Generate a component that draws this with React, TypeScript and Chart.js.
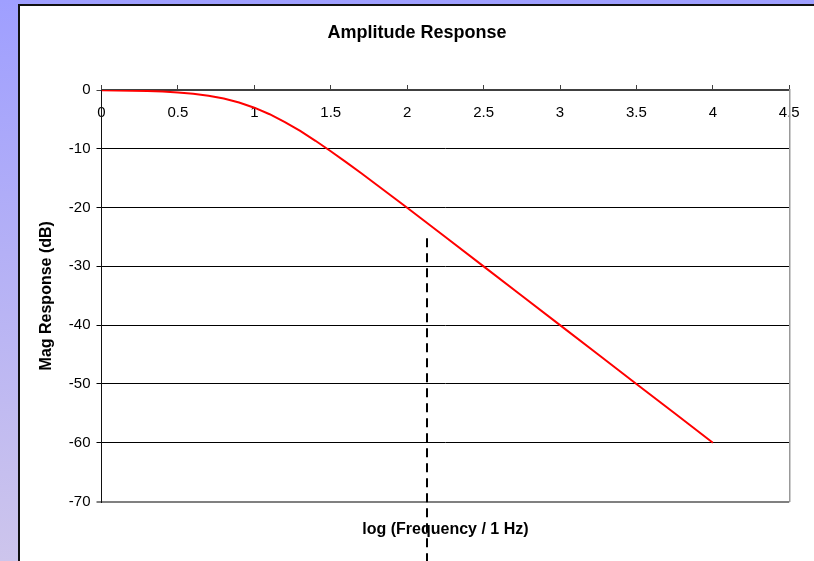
import React, { useEffect, useRef } from "react";
import { Chart, registerables } from "chart.js";

Chart.register(...registerables);

// log10(frequency / 1 Hz)
const logFreq: number[] = [
  0, 0.1, 0.2, 0.3, 0.4, 0.5, 0.6, 0.7, 0.8, 0.9, 1.0, 1.1, 1.2, 1.3, 1.4, 1.5,
  1.6, 1.7, 1.8, 1.9, 2.0, 2.25, 2.5, 2.75, 3.0, 3.25, 3.5, 3.75, 4.0,
];
// magnitude response in dB
const magDb: number[] = [
  -0.04, -0.07, -0.11, -0.17, -0.27, -0.41, -0.64, -0.97, -1.46, -2.12, -3.01,
  -4.12, -5.46, -6.97, -8.64, -10.41, -12.27, -14.17, -16.11, -18.07, -20.04,
  -25.0, -30.0, -35.0, -40.0, -45.0, -50.0, -55.0, -60.0,
];

const xTickStep = 0.5;
const xRange: number[] = [0, 4.5];
const yTickStep = 10;
const yRange: number[] = [-70, 0];

// dashed marker line (x position, top in dB)
const markerX: number[] = [2.13];
const markerTopDb: number[] = [-25.2];

const FONT = "'Liberation Sans', Arial, Helvetica, sans-serif";

export default function App() {
  const ref = useRef<HTMLCanvasElement | null>(null);

  useEffect(() => {
    const canvas = ref.current;
    if (!canvas) return;

    const markerPlugin = {
      id: "markerLine",
      afterDraw(chart: any) {
        const ctx = chart.ctx;
        const xs = chart.scales.x;
        const ys = chart.scales.y;
        markerX.forEach((mx, i) => {
          const px = Math.round(xs.getPixelForValue(mx));
          const py = ys.getPixelForValue(markerTopDb[i]);
          ctx.save();
          ctx.strokeStyle = "#000";
          ctx.lineWidth = 2;
          ctx.setLineDash([9, 6]);
          ctx.beginPath();
          ctx.moveTo(px, py);
          ctx.lineTo(px, chart.height);
          ctx.stroke();
          ctx.restore();
        });
      },
    };

    const chart = new Chart(canvas, {
      type: "line",
      data: {
        datasets: [
          {
            data: logFreq.map((x, i) => ({ x, y: magDb[i] })),
            borderColor: "#ff0000",
            borderWidth: 2,
            pointRadius: 0,
            fill: false,
            tension: 0,
            xAxisID: "x",
            yAxisID: "y",
          },
        ],
      },
      options: {
        responsive: false,
        animation: false,
        devicePixelRatio: 1,
        layout: { padding: { left: 20, right: 0, top: 0, bottom: 0 } },
        plugins: {
          legend: { display: false },
          tooltip: { enabled: false },
          title: {
            display: true,
            text: "Amplitude Response",
            color: "#000",
            font: { family: FONT, size: 18, weight: "bold" },
            padding: { top: 22.2, bottom: 41.2 },
          },
        },
        scales: {
          x: {
            type: "linear",
            position: "top",
            min: xRange[0],
            max: xRange[1],
            ticks: {
              stepSize: xTickStep,
              mirror: true,
              padding: 14.3,
              color: "#000",
              font: { family: FONT, size: 15 },
              maxRotation: 0,
              autoSkip: false,
              callback: (v: any) => String(Number(v)),
            },
            grid: {
              drawOnChartArea: false,
              drawTicks: true,
              tickLength: 5,
              color: "#404040",
            },
            border: { display: true, color: "#404040", width: 2 },
            afterFit: (s: any) => {
              s.height = 5;
            },
          },
          xTitle: {
            type: "linear",
            axis: "x",
            position: "bottom",
            display: true,
            ticks: { display: false },
            grid: { display: false },
            border: { display: false },
            title: {
              display: true,
              text: "log (Frequency / 1 Hz)",
              color: "#000",
              font: { family: FONT, size: 16, weight: "bold" },
              padding: { top: 0, bottom: 21.4 },
            },
            afterFit: (s: any) => {
              s.height = 59.5;
            },
          },
          y: {
            type: "linear",
            position: "left",
            min: yRange[0],
            max: yRange[1],
            ticks: {
              stepSize: yTickStep,
              padding: 6,
              color: "#000",
              font: { family: FONT, size: 15 },
              callback: (v: any) => String(Number(v)),
            },
            grid: {
              tickLength: 5,
              color: (c: any) =>
                c.tick && c.tick.value === yRange[0]
                  ? "#808080"
                  : c.tick && c.tick.value === yRange[1]
                  ? "#404040"
                  : "#000",
              lineWidth: (c: any) =>
                c.tick && c.tick.value === yRange[0] ? 2 : 1,
            },
            border: { display: true, color: "#111", width: 1 },
            title: {
              display: true,
              text: "Mag Response (dB)",
              color: "#000",
              font: { family: FONT, size: 16, weight: "bold" },
              padding: { top: 17.4, bottom: 0 },
            },
            afterFit: (s: any) => {
              s.width = 81.5;
            },
          },
          yRight: {
            type: "linear",
            axis: "y",
            position: "right",
            display: true,
            ticks: { display: false },
            grid: { display: false },
            border: { display: true, color: "#999", width: 1.5 },
            afterFit: (s: any) => {
              s.width = 22.5;
            },
          },
        },
      } as any,
      plugins: [markerPlugin],
    });

    return () => chart.destroy();
  }, []);

  return (
    <div
      style={{
        position: "fixed",
        left: 0,
        top: 0,
        width: 814,
        height: 561,
        overflow: "hidden",
        background: "linear-gradient(to bottom, #9f9fff 0%, #b4b0f6 45%, #cdc5ec 100%)",
      }}
    >
      <div
        style={{
          position: "absolute",
          left: 18,
          top: 4,
          right: -4,
          bottom: -4,
          background: "#fff",
          borderLeft: "2px solid #111",
          borderTop: "2px solid #111",
        }}
      />
      <canvas
        ref={ref}
        width={814}
        height={561}
        style={{ position: "absolute", left: 0, top: 0, width: 814, height: 561 }}
      />
    </div>
  );
}
